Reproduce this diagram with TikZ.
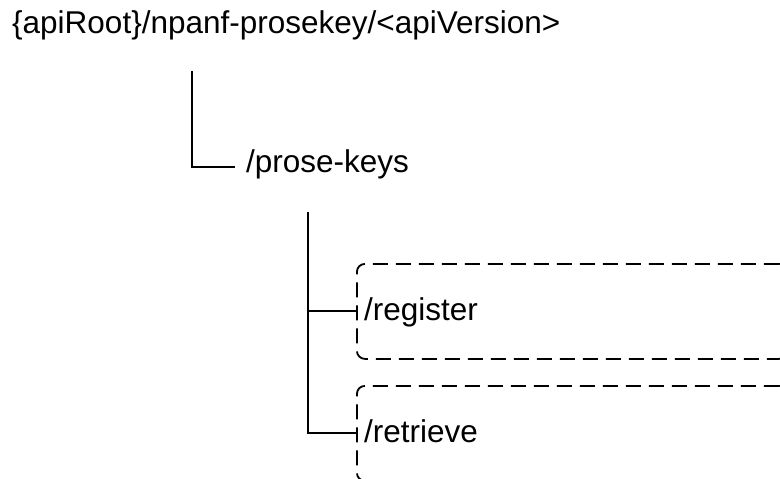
\documentclass[tikz,border=0pt]{standalone}
\usepackage{fontspec}
\setmainfont{Liberation Sans}
\begin{document}
\begin{tikzpicture}[x=1pt,y=-1pt,
  lbl/.style={inner sep=0pt,anchor=base west,font=\fontsize{31.5}{38}\selectfont},
  tree/.style={line width=2pt,black},
  dbox/.style={draw,line width=1.8pt,dash pattern=on 15pt off 8pt,rounded corners=8pt,
    minimum width=430pt,minimum height=95pt,inner sep=0pt,anchor=north west}]
\useasboundingbox (0,0) rectangle (780,479);
\clip (0,0) rectangle (780,479);
\fill[white] (0,0) rectangle (780,479);
% labels
\node[lbl] (root) at (12,33) {\{apiRoot\}/npanf-prosekey/<apiVersion>};
\node[lbl] (prose) at (246,172) {/prose-keys};
\node[dbox] (b1) at (356,263) {};
\node[dbox] (b2) at (356,385) {};
\node[lbl] (reg) at (364,320) {/register};
\node[lbl] (ret) at (364,442) {/retrieve};
% connectors
\coordinate (t1) at (192,71);
\coordinate (p1) at (235,167);
\coordinate (t2) at (308,212);
\draw[tree] (t1) |- (p1);
\draw[tree] (t2) |- (b1.west);
\draw[tree] (t2) |- (b2.west);
\end{tikzpicture}
\end{document}
